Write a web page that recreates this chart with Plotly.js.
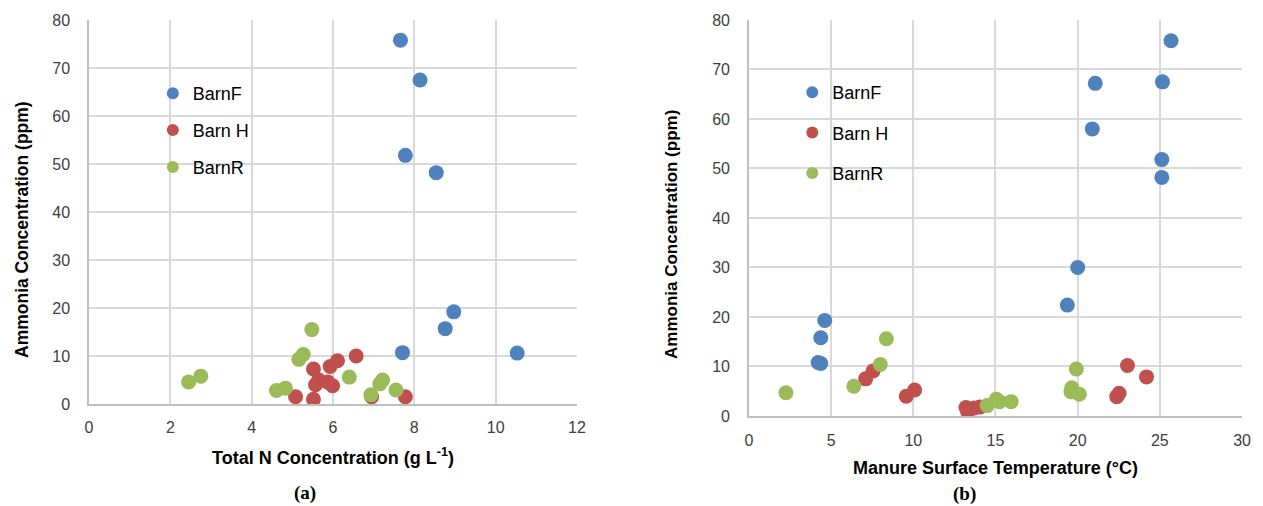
<!DOCTYPE html>
<html>
<head>
<meta charset="utf-8">
<script src="https://cdn.plot.ly/plotly-3.0.1.min.js"></script>
<style>html,body{margin:0;padding:0;background:#fff;}#chart{width:1263px;height:506px;}</style>
</head>
<body>
<div id="chart"></div>
<script>
// ---- Panel (a): Total N concentration vs ammonia ----
const seriesNames = ["BarnF", "Barn H", "BarnR"];
const barnF_N = [7.66, 8.14, 7.78, 8.54, 8.97, 8.76, 7.71, 10.53];
const barnF_NH3_a = [75.8, 67.5, 51.8, 48.2, 19.2, 15.7, 10.7, 10.6];
const barnH_N = [5.08, 5.52, 5.52, 5.93, 6.11, 6.57, 5.65, 5.57, 5.99, 5.87, 6.95, 7.78];
const barnH_NH3_a = [1.5, 1.0, 7.3, 7.8, 9.0, 10.0, 5.0, 4.0, 3.8, 4.6, 1.5, 1.5];
const barnR_N = [2.45, 2.75, 5.48, 5.16, 5.27, 4.61, 4.83, 6.40, 7.15, 7.22, 6.93, 7.55];
const barnR_NH3_a = [4.6, 5.8, 15.5, 9.3, 10.3, 2.8, 3.3, 5.6, 4.2, 5.0, 1.9, 2.9];

// ---- Panel (b): Manure surface temperature vs ammonia ----
const barnF_T = [25.68, 21.07, 25.16, 20.89, 25.12, 25.12, 20.0, 19.37, 4.61, 4.37, 4.21, 4.37];
const barnF_NH3_b = [75.8, 67.2, 67.5, 58.0, 51.8, 48.2, 30.0, 22.4, 19.3, 15.8, 10.8, 10.6];
const barnH_T = [7.10, 7.55, 9.57, 10.08, 13.2, 13.3, 13.7, 14.05, 23.03, 24.19, 22.38, 22.52];
const barnH_NH3_b = [7.5, 9.1, 4.0, 5.25, 1.7, 0.9, 1.6, 1.8, 10.2, 7.9, 3.9, 4.6];
const barnR_T = [2.25, 6.38, 7.99, 8.36, 19.92, 19.64, 19.59, 20.1, 14.49, 15.05, 15.25, 15.95];
const barnR_NH3_b = [4.7, 6.0, 10.4, 15.6, 9.5, 5.7, 4.9, 4.4, 2.1, 3.4, 2.9, 2.9];

const yTitle = "Ammonia Concentration (ppm)";
const xTitleA = "Total N Concentration (g L<sup>-1</sup>)";
const xTitleB = "Manure Surface Temperature (°C)";

const colors = ["#4F81BD", "#C0504D", "#9BBB59"];
const msize = 15;

function tr(x, y, i, xa, ya, leg) {
  return {
    type: "scatter", mode: "markers", x: x, y: y, name: seriesNames[i],
    xaxis: xa, yaxis: ya, legend: leg, legendgroup: leg + i,
    marker: {color: colors[i], size: msize, line: {width: 0}},
    hoverinfo: "x+y+name"
  };
}

const data = [
  tr(barnF_N, barnF_NH3_a, 0, "x", "y", "legend"),
  tr(barnH_N, barnH_NH3_a, 1, "x", "y", "legend"),
  tr(barnR_N, barnR_NH3_a, 2, "x", "y", "legend"),
  tr(barnF_T, barnF_NH3_b, 0, "x2", "y2", "legend2"),
  tr(barnH_T, barnH_NH3_b, 1, "x2", "y2", "legend2"),
  tr(barnR_T, barnR_NH3_b, 2, "x2", "y2", "legend2")
];

const fam = "Arial, Liberation Sans, sans-serif";
const tickFont = {family: fam, size: 16, color: "#404040"};
const titleFont = {family: fam, size: 18, color: "#000", weight: "bold"};
const legFont = {family: fam, size: 18, color: "#000"};

function axis(extra) {
  return Object.assign({
    showgrid: true, gridcolor: "#D9D9D9", gridwidth: 1.5,
    zeroline: false, showline: true, linecolor: "#BFBFBF", linewidth: 1.5,
    ticks: "", tickfont: tickFont, fixedrange: true
  }, extra);
}

const layout = {
  width: 1263, height: 506,
  margin: {l: 0, r: 0, t: 0, b: 0},
  paper_bgcolor: "#fff", plot_bgcolor: "#fff",
  font: {family: fam},
  xaxis: axis({domain: [0.0705, 0.4568], range: [0, 12], dtick: 2, anchor: "y",
    ticklabelstandoff: 8,
    title: {text: xTitleA, font: titleFont, standoff: 16}}),
  yaxis: axis({domain: [0.2016, 0.9605], range: [0, 80], dtick: 10, anchor: "x",
    ticklabelstandoff: 14}),
  xaxis2: axis({domain: [0.5930, 0.9834], range: [0, 30], dtick: 5, anchor: "y2",
    ticklabelstandoff: 9,
    title: {text: xTitleB, font: titleFont, standoff: 13}}),
  yaxis2: axis({domain: [0.1779, 0.9605], range: [0, 80], dtick: 10, anchor: "x2",
    ticklabelstandoff: 14}),
  legend: {x: 0.121, y: 0.8518, xanchor: "left", yanchor: "top", bgcolor: "rgba(0,0,0,0)",
    borderwidth: 0, font: legFont, traceorder: "grouped", tracegroupgap: 10.5, itemsizing: "constant"},
  legend2: {x: 0.6273, y: 0.8538, xanchor: "left", yanchor: "top", bgcolor: "rgba(0,0,0,0)",
    borderwidth: 0, font: legFont, traceorder: "grouped", tracegroupgap: 14, itemsizing: "constant"},
  showlegend: true,
  annotations: [
    {text: "<b>" + yTitle + "</b>", xref: "paper", yref: "paper", x: 22 / 1263, y: 1 - 230 / 506,
     xanchor: "center", yanchor: "middle", textangle: -90, showarrow: false,
     font: {family: fam, size: 17.5, color: "#000"}},
    {text: "<b>" + yTitle + "</b>", xref: "paper", yref: "paper", x: 671 / 1263, y: 1 - 235 / 506,
     xanchor: "center", yanchor: "middle", textangle: -90, showarrow: false,
     font: {family: fam, size: 17, color: "#000"}},
    {text: "<b>(a)</b>", xref: "paper", yref: "paper", x: 305 / 1263, y: 1 - 493 / 506,
     xanchor: "center", yanchor: "middle", showarrow: false,
     font: {family: "Liberation Serif, Times New Roman, serif", size: 19, color: "#000"}},
    {text: "<b>(b)</b>", xref: "paper", yref: "paper", x: 965 / 1263, y: 1 - 494 / 506,
     xanchor: "center", yanchor: "middle", showarrow: false,
     font: {family: "Liberation Serif, Times New Roman, serif", size: 19, color: "#000"}}
  ]
};

Plotly.newPlot("chart", data, layout, {displayModeBar: false});
</script>
</body>
</html>
